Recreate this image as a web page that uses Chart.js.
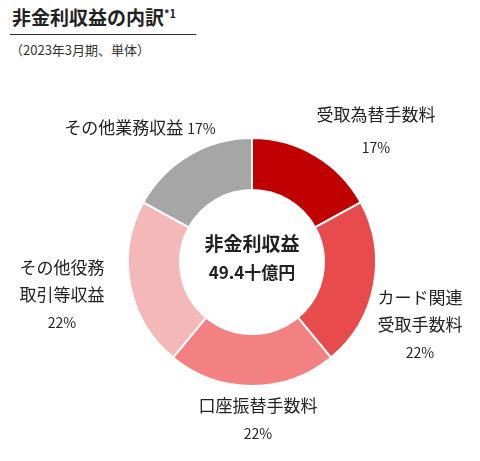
<!DOCTYPE html><html><head><meta charset="utf-8">
<script src="https://cdn.jsdelivr.net/npm/chart.js@4"></script>
<style>
body{margin:0;width:480px;height:461px;background:#fff;font-family:"Noto Sans CJK JP","Noto Sans",sans-serif;position:relative;overflow:hidden}
#wrap{position:absolute;left:0;top:0;width:480px;height:461px}
.t{position:absolute;color:#222;font-size:17px;text-align:center;white-space:nowrap;transform:translateX(-50%);line-height:27px}
.p{font-size:14px}
</style></head><body>
<div style="position:absolute;left:12px;top:3px;font-size:19px;font-weight:bold;color:#222">非金利収益の内訳<sup style="font-size:11px">*1</sup></div>
<div style="position:absolute;left:10px;top:34px;width:186px;border-top:1.5px solid #333"></div>
<div style="position:absolute;left:10px;top:40px;font-size:13px;color:#333">（2023年3月期、単体）</div>
<div id="wrap"><canvas id="c" width="480" height="461"></canvas></div>
<div class="t" style="left:376px;top:98px;line-height:32px">受取為替手数料<br><span class="p">17%</span></div>
<div class="t" style="left:420px;top:283px">カード関連<br>受取手数料<br><span class="p">22%</span></div>
<div class="t" style="left:258px;top:391px">口座振替手数料<br><span class="p">22%</span></div>
<div class="t" style="left:62px;top:253px">その他役務<br>取引等収益<br><span class="p">22%</span></div>
<div class="t" style="left:140px;top:113px">その他業務収益 <span class="p">17%</span></div>
<div class="t" style="left:252px;top:229px;font-weight:bold;font-size:19px;line-height:28px">非金利収益<br><span style="font-size:17px">49.4十億円</span></div>
<script>
const categories=["受取為替手数料","カード関連受取手数料","口座振替手数料","その他役務取引等収益","その他業務収益"];
const values=[17,22,22,22,17];
const colors=["#C00000","#E84B4B","#F38181","#F5B8B8","#A6A6A6"];
new Chart(document.getElementById('c'),{type:'doughnut',
data:{labels:categories,datasets:[{data:values,backgroundColor:colors,borderColor:'#fff',borderWidth:2}]},
options:{responsive:false,animation:false,cutout:'58%',layout:{padding:{left:127,right:103,top:137,bottom:74}},
plugins:{legend:{display:false},tooltip:{enabled:false}}}});
</script></body></html>
